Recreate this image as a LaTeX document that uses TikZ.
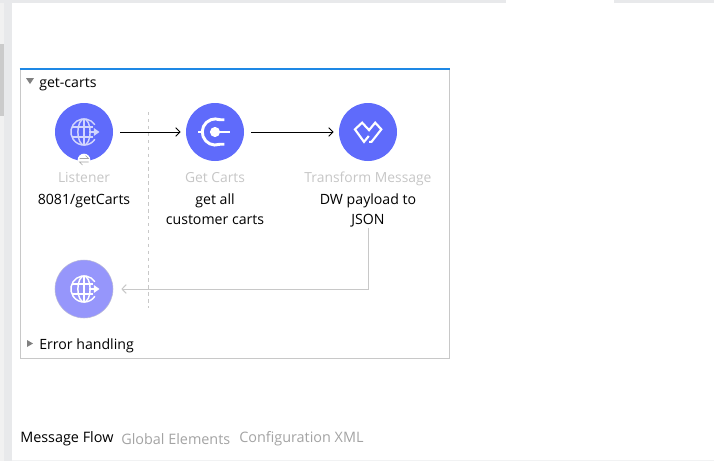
\documentclass[tikz,border=0pt]{standalone}
\usepackage{fontspec}
\setmainfont{Open Sans}
\usetikzlibrary{arrows.meta,positioning}
\definecolor{chromegray}{HTML}{E8E9EB}
\definecolor{stripgray}{HTML}{F1F1F1}
\definecolor{thumbgray}{HTML}{CBCBCB}
\definecolor{flowblue}{HTML}{1E88E5}
\definecolor{framegray}{HTML}{C8C8C8}
\definecolor{opaccent}{HTML}{5F6BFB}
\definecolor{replyaccent}{HTML}{9696FB}
\definecolor{iconpale}{HTML}{D2D5FD}
\definecolor{captiongray}{HTML}{C6C6C6}
\definecolor{tabgray}{HTML}{A3A3A3}
\definecolor{marker}{HTML}{808080}
\tikzset{
  flow frame/.style={
    draw=framegray,
    line width=0.75pt,
    minimum width=321.75pt,
    minimum height=216.75pt,
    inner sep=0pt,
  },
  flow op/.style={
    circle,
    fill=opaccent,
    minimum size=43.5pt,
    inner sep=0pt,
  },
  flow reply/.style={
    flow op,
    fill=replyaccent,
    draw=framegray!70!replyaccent,
    line width=0.4pt,
  },
  caption/.style={
    text=captiongray,
    inner sep=0pt,
    text height=8pt,
    text depth=2.4pt,
    font=\fontsize{10.4}{15}\selectfont,
  },
  note/.style={
    align=center,
    text=black,
    inner sep=0pt,
    font=\fontsize{10.6}{15}\selectfont,
  },
  heading/.style={
    anchor=west,
    inner sep=0pt,
    text=black,
    font=\fontsize{10.6}{15}\selectfont,
  },
  tab/.style={
    anchor=west,
    inner sep=0pt,
    text=tabgray,
    font=\fontsize{10.8}{15}\selectfont,
  },
  main arrow/.style={
    -{Straight Barb[length=3.2pt,width=6.5pt]},
    line width=0.75pt,
    shorten <=5.2pt,
    shorten >=3.8pt,
  },
  back arrow/.style={
    -{Straight Barb[length=3.2pt,width=6.5pt]},
    line width=0.75pt,
    draw=framegray,
    shorten >=6pt,
  },
  divider/.style={
    draw=framegray,
    line width=0.75pt,
    dash pattern=on 2.6pt off 2.6pt,
  },
  pics/globe icon/.style={
    code={
      \begin{scope}[draw=#1,line width=1.1pt]
        \draw (34:9.8pt) arc[start angle=34,end angle=326,radius=9.8pt];
        \draw (0,-9.8pt) arc[start angle=-90,end angle=-270,x radius=4.6pt,y radius=9.8pt];
        \draw (0,-9.8pt) arc[start angle=-90,end angle=90,x radius=4.6pt,y radius=9.8pt];
        \draw (0,-9.8pt) -- (0,9.8pt);
        \draw (-8.9pt,-3.6pt) -- (6.4pt,-3.6pt);
        \draw (-8.9pt,3.6pt) -- (6.4pt,3.6pt);
      \end{scope}
      \fill[#1] (3.8pt,-0.9pt) rectangle (8pt,0.9pt);
      \fill[#1] (7.4pt,-3pt) -- (11.6pt,0pt) -- (7.4pt,3pt) -- cycle;
    }
  },
  pics/connect icon/.style={
    code={
      \begin{scope}[draw=white,line width=2.2pt]
        \draw (7pt,-9.2pt) -- (3.6pt,-9.2pt)
          arc[start angle=-70,end angle=-290,radius=9.8pt] -- (7pt,9.2pt);
        \draw (-12.6pt,0) -- (-9pt,0);
        \draw (0,0) -- (11.4pt,0);
      \end{scope}
      \fill[white] (0,0) circle (3.8pt);
    }
  },
  pics/weave icon/.style={
    code={
      \draw[white,line width=1.6pt,miter limit=6]
        (0.6pt,-3pt) -- (-3pt,-7.4pt) -- (-9.8pt,2pt) -- (-4.4pt,7pt)
        -- (0.8pt,1.4pt) -- (5.4pt,7pt) -- (10pt,2pt) -- (2.6pt,-7.4pt) -- (0.8pt,-7.4pt);
    }
  },
}
\begin{document}
\begin{tikzpicture}[x=0.75pt,y=-0.75pt]
  \useasboundingbox (0,0) rectangle (714,461);
  \fill[chromegray] (0,0) rectangle (506,3);
  \fill[chromegray] (614,0) rectangle (714,3);
  \fill[chromegray] (4,3) rectangle (12,461);
  \fill[stripgray] (0,3) rectangle (4,461);
  \fill[thumbgray] (0,44) rectangle (4,116);
  \fill[chromegray!60] (12,460) rectangle (714,461);

  \node[flow frame] (frame) at (234.5,213.5) {};
  \draw[flowblue,line width=1.5pt] (frame.north west) -- (frame.north east);

  \fill[marker] (26,78) -- (34,78) -- (30,84) -- cycle;
  \node[heading] (title) at (39,84.5) {get-carts};

  \node[flow op] (listener) at (84,132) {};
  \node[flow op] (getcarts) at (215,132) {};
  \node[flow op] (transform) at (368,132) {};
  \node[flow reply] (reply) at (84,289) {};

  \pic at (84,132) {globe icon=iconpale};
  \pic at (215,132) {connect icon};
  \pic at (368,132) {weave icon};
  \pic at (84,289) {globe icon=white};

  \node[circle,fill=white,minimum size=9.5pt,inner sep=0pt] (badge) at (84,160) {};
  \draw[tabgray,line width=0.5pt] (79.5,158.5) -- (88.5,158.5) -- (85.5,155.5);
  \draw[tabgray,line width=0.5pt] (88.5,162) -- (79.5,162) -- (82.5,165);

  \node[caption,below=7.6pt of listener] (listenercap) {Listener};
  \node[note,below=5.9pt of listenercap] (listenernote) {8081/getCarts};
  \node[caption,below=7.6pt of getcarts] (getcartscap) {Get Carts};
  \node[note,below=5.9pt of getcartscap] (getcartsnote) {get all\\customer carts};
  \node[caption,below=7.6pt of transform] (transformcap) {Transform Message};
  \node[note,below=5.9pt of transformcap] (transformnote) {DW payload to\\JSON};

  \coordinate (dividertop) at (148.5,112);
  \coordinate (dividerbottom) at (148.5,308);
  \draw[divider] (dividertop) -- (dividerbottom);

  \draw[main arrow] (listener) -- (getcarts);
  \draw[main arrow] (getcarts) -- (transform);
  \draw[back arrow] (transformnote.south) |- (reply.east);

  \fill[marker] (27,340) -- (33,343.5) -- (27,347) -- cycle;
  \node[heading] (errors) at (39,346) {Error handling};

  \node[tab,text=black] (flowtab) at (20,439) {Message Flow};
  \node[tab] (globaltab) at (121,439) {Global Elements};
  \node[tab] (configtab) at (239,439) {Configuration XML};
\end{tikzpicture}
\end{document}
